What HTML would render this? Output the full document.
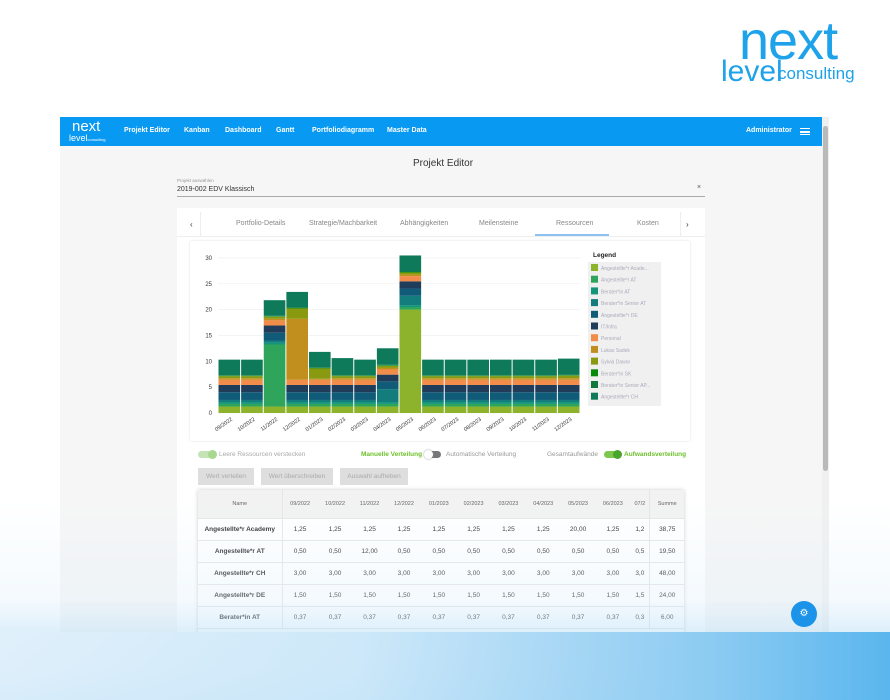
<!DOCTYPE html>
<html><head><meta charset="utf-8"><style>
*{margin:0;padding:0;box-sizing:border-box}
body{width:890px;height:700px;background:#fff;font-family:"Liberation Sans",sans-serif;position:relative;overflow:hidden}
.a{position:absolute}
.nav{left:60px;top:117px;width:762px;height:29px;background:#0899f2;color:#fff;font-size:7px;font-weight:bold}
.nav span{position:absolute;top:10px}
.app{left:60px;top:146px;width:762px;height:486px;background:#f6f6f6}
.card{left:177px;top:208px;width:528px;height:430px;background:#fff}
.tab{top:220px;font-size:7px;color:#888}
.btn{top:468px;height:17px;background:#dedede;color:#aaa;font-size:6.5px;text-align:center;line-height:17px}
table{border-collapse:collapse;font-size:6.5px;color:#333}
td,th{height:22px;text-align:center;border-bottom:1px solid #e6e6e6}
th{font-weight:normal;color:#666;font-size:5.5px;height:28px;background:#f2f2f2}
</style></head><body>
<div class="a" style="left:739px;top:14px;font-size:54px;color:#1ea2ea;letter-spacing:-1px;line-height:54px">next</div>
<div class="a" style="left:721px;top:56px;font-size:30px;color:#1ea2ea;line-height:32px">level</div>
<div class="a" style="left:778px;top:64px;font-size:17px;color:#1ea2ea">consulting</div>

<div class="a app"></div>
<div class="a nav">
<div class="a" style="left:12px;top:3px;font-size:15px;font-weight:normal;line-height:14px">next</div>
<div class="a" style="left:9px;top:16px;font-size:9px;font-weight:normal">level<span style="position:static;font-size:4px">consulting</span></div>
<span style="left:64px">Projekt Editor</span><span style="left:124px">Kanban</span><span style="left:165px">Dashboard</span><span style="left:216px">Gantt</span><span style="left:252px">Portfoliodiagramm</span><span style="left:327px">Master Data</span><span style="left:686px">Administrator</span>
<div class="a" style="left:740px;top:11px;width:10px;height:7px;border-top:1.5px solid #fff;border-bottom:1.5px solid #fff"></div><div class="a" style="left:740px;top:14px;width:10px;height:1.5px;background:#fff"></div>
</div>
<div class="a" style="left:822px;top:117px;width:7px;height:515px;background:#f0f0f0"></div>
<div class="a" style="left:823px;top:126px;width:5px;height:345px;background:#b9b9b9;border-radius:3px"></div>
<div class="a" style="left:413px;top:158px;font-size:10px;color:#333">Projekt Editor</div>
<div class="a" style="left:177px;top:178px;font-size:4.5px;color:#999">Projekt auswählen</div>
<div class="a" style="left:177px;top:186px;font-size:7px;color:#333">2019-002 EDV Klassisch</div>
<div class="a" style="left:697px;top:184px;font-size:7px;color:#555">×</div>
<div class="a" style="left:177px;top:196px;width:528px;height:1px;background:#aaa"></div>
<div class="a card"></div>
<div class="a" style="left:177px;top:236px;width:528px;height:1px;background:#eee"></div>
<div class="a" style="left:190px;top:220px;font-size:8px;color:#333">‹</div>
<div class="a" style="left:686px;top:220px;font-size:8px;color:#333">›</div>
<div class="a" style="left:200px;top:212px;width:1px;height:24px;background:#eee"></div>
<div class="a" style="left:680px;top:212px;width:1px;height:24px;background:#eee"></div>
<div class="a tab" style="left:236px">Portfolio-Details</div>
<div class="a tab" style="left:309px">Strategie/Machbarkeit</div>
<div class="a tab" style="left:400px">Abhängigkeiten</div>
<div class="a tab" style="left:479px">Meilensteine</div>
<div class="a tab" style="left:556px">Ressourcen</div>
<div class="a tab" style="left:637px">Kosten</div>
<div class="a" style="left:535px;top:234px;width:74px;height:2px;background:#8cc2f2"></div>
<div class="a" style="left:190px;top:241px;width:500px;height:200px;background:#fff;box-shadow:0 0 2px #ddd"></div>
<svg class="a" id="ch" style="left:0;top:0" width="890" height="700"></svg>
<div class="a" style="left:198px;top:451px;width:16px;height:7px;border-radius:4px;background:#c5e4b5"></div>
<div class="a" style="left:208px;top:450px;width:9px;height:9px;border-radius:5px;background:#a8d890"></div>
<div class="a" style="left:219px;top:451px;font-size:6.5px;color:#aaa">Leere Ressourcen verstecken</div>
<div class="a" style="left:361px;top:451px;font-size:6.5px;color:#6cbf2a;font-weight:bold">Manuelle Verteilung</div>
<div class="a" style="left:425px;top:451px;width:16px;height:7px;border-radius:4px;background:#777"></div>
<div class="a" style="left:424px;top:450px;width:9px;height:9px;border-radius:5px;background:#fff;box-shadow:0 0 2px #999"></div>
<div class="a" style="left:446px;top:451px;font-size:6.5px;color:#999">Automatische Verteilung</div>
<div class="a" style="left:547px;top:451px;font-size:6.5px;color:#999">Gesamtaufwände</div>
<div class="a" style="left:604px;top:451px;width:16px;height:7px;border-radius:4px;background:#7cc84f"></div>
<div class="a" style="left:613px;top:450px;width:9px;height:9px;border-radius:5px;background:#4aa62a"></div>
<div class="a" style="left:624px;top:451px;font-size:6.5px;color:#6cbf2a;font-weight:bold">Aufwandsverteilung</div>
<div class="a btn" style="left:198px;width:56px">Wert verteilen</div>
<div class="a btn" style="left:261px;width:72px">Wert überschreiben</div>
<div class="a btn" style="left:340px;width:68px">Auswahl aufheben</div>
<div class="a" style="left:198px;top:490px;width:486px;height:145px;background:#fff;box-shadow:0 0 4px #ccc;overflow:hidden">
<table style="width:486px"><tr><th style="width:84px;border-right:1px solid #e6e6e6">Name</th><th>09/2022</th><th>10/2022</th><th>11/2022</th><th>12/2022</th><th>01/2023</th><th>02/2023</th><th>03/2023</th><th>04/2023</th><th>05/2023</th><th>06/2023</th><th>07/2</th><th style="border-left:1px solid #e6e6e6">Summe</th></tr>
<tbody id="tb"></tbody></table></div>
<div class="a" style="left:0;top:500px;width:890px;height:200px;background:linear-gradient(180deg,rgba(255,255,255,0) 0%,rgba(220,238,250,0.3) 50%,rgba(170,215,245,0.7) 85%,rgba(120,195,240,0.9) 100%)"></div>
<div class="a" style="left:0;top:632px;width:890px;height:68px;background:linear-gradient(90deg,rgba(225,240,251,0.9) 0%,rgba(205,232,249,0.95) 40%,#8ccbf2 80%,#5ab6ee 100%)"></div>
<div class="a" style="left:791px;top:601px;width:26px;height:26px;border-radius:13px;background:#1a93e8;color:#fff;font-size:10px;text-align:center;line-height:26px">⚙</div>
<script>
var C=['#8db32d','#2ea55a','#14957a','#137c7c','#0f5b78','#1f3d5a','#f28c4a','#c18f1e','#8a9a10','#0a8a0a','#107a3c','#0e7a5a'];
var N=['Angestellte*r Acade...','Angestellte*r AT','Berater*in AT','Berater*in Senior AT','Angestellte*r DE','IT/Infra','Personal','Lukas Sadek','Sylvia Dawor','Berater*in SK','Berater*in Senior AP...','Angestellte*r CH'];
var L=['09/2022','10/2022','11/2022','12/2022','01/2023','02/2023','03/2023','04/2023','05/2023','06/2023','07/2023','08/2023','09/2023','10/2023','11/2023','12/2023'];
var base=[1.25,.5,.37,.4,1.5,1.4,1,.3,.4,.1,.1,3];
var s='',x0=218,W=362,y0=413,k=5.17,bw=W/16;
for(var v=0;v<=30;v+=5){var y=y0-v*k;s+='<line x1="'+x0+'" x2="'+(x0+W)+'" y1="'+y+'" y2="'+y+'" stroke="#eee" stroke-width="0.6"/><text x="212" y="'+(y+2)+'" font-size="6" fill="#333" text-anchor="end" font-family="Liberation Sans">'+v+'</text>';}
for(var i=0;i<16;i++){var d=base.slice();
if(i==2){d[1]=12;d[7]=.3}
if(i==3){d[7]=11.8;d[8]=2}
if(i==4){d[8]=2;d[7]=.2}
if(i==5){d[11]=3.3}
if(i==7){d[3]=2.5;d[5]=1.3;d[11]=3.2;d[8]=.4}
if(i==8){d[0]=20;d[3]=1.8;d[4]=1.4;d[5]=1.4;d[11]=3.1}
if(i==15){d[8]=.5;d[11]=3.1}
var c=0,x=x0+i*bw+0.5;
for(var j=0;j<12;j++){var h=d[j]*k;s+='<rect x="'+x+'" y="'+(y0-c-h)+'" width="'+(bw-1)+'" height="'+h+'" fill="'+C[j]+'"/>';c+=h;}
var tx=x+bw/2+3;s+='<text transform="translate('+tx+',420) rotate(-35)" font-size="5.5" fill="#333" text-anchor="end" font-family="Liberation Sans">'+L[i]+'</text>';}
s+='<text x="593" y="257" font-size="6.5" font-weight="bold" fill="#222" font-family="Liberation Sans">Legend</text><rect x="588" y="262" width="73" height="144" fill="#f0f0f0"/>';
for(var j=0;j<12;j++){var y=264+j*11.7;s+='<rect x="591" y="'+y+'" width="7" height="7" fill="'+C[j]+'"/><text x="601" y="'+(y+6)+'" font-size="5" fill="#aab" font-family="Liberation Sans">'+N[j]+'</text>';}
document.getElementById('ch').innerHTML=s;
var R=[['Angestellte*r Academy','1,25',[0,0,0,0,0,0,0,0,'20,00',0,0],'38,75'],['Angestellte*r AT','0,50',[0,0,'12,00',0,0,0,0,0,0,0,0],'19,50'],['Angestellte*r CH','3,00',[],'48,00'],['Angestellte*r DE','1,50',[],'24,00'],['Berater*in AT','0,37',[],'6,00']];
var t='';R.forEach(function(r){t+='<tr><td style="font-weight:bold;border-right:1px solid #e6e6e6">'+r[0]+'</td>';for(var i=0;i<11;i++){var v=r[2][i]||r[1];t+='<td>'+(i==10?v.slice(0,3):v)+'</td>';}t+='<td style="border-left:1px solid #e6e6e6">'+r[3]+'</td></tr>';});
document.getElementById('tb').innerHTML=t;
</script>
</body></html>
